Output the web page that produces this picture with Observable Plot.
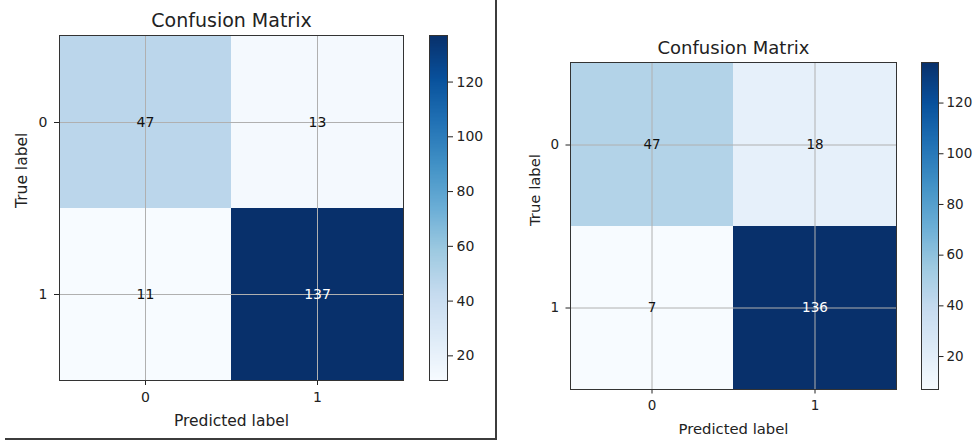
<!DOCTYPE html>
<html><head><meta charset="utf-8">
<script src="https://cdn.jsdelivr.net/npm/d3@7"></script>
<script src="https://cdn.jsdelivr.net/npm/@observablehq/plot@0.6"></script>
<style>
body{margin:0;background:#fff;}
#root{position:relative;width:976px;height:441px;overflow:hidden;background:#fff;}
#root svg{position:absolute;top:0;overflow:visible;}
#border{position:absolute;left:5px;top:0;width:490px;height:438px;border-right:2px solid #3c3c3c;border-bottom:2px solid #3c3c3c;}
</style></head><body><div id="root"><div id="border"></div></div>
<script>
// ---- data ----
const classLabels = ["0", "1"];
const titleText = "Confusion Matrix";
const xLabel = "Predicted label";
const yLabel = "True label";
const matrixLeft = [[47, 13], [11, 137]];
const matrixRight = [[47, 18], [7, 136]];
const colorbarTicks = [20, 40, 60, 80, 100, 120];
const bluesStops = ["#f7fbff","#deebf7","#c6dbef","#9ecae1","#6baed6","#4292c6","#2171b5","#08519c","#08306b"];
const blues = d3.piecewise(d3.interpolateRgb, bluesStops);

function cells(matrix) {
  return matrix.flatMap((row, i) => row.map((v, j) => ({actual: classLabels[i], predicted: classLabels[j], value: v})));
}

function drawMatrix(root, matrix, L) {
  const data = cells(matrix);
  const values = data.map(d => d.value);
  const vmin = d3.min(values), vmax = d3.max(values);
  const color = {type: "linear", domain: [vmin, vmax], interpolate: blues};
  const style = {fontFamily: "DejaVu Sans", background: "transparent", color: "#222", overflow: "visible"};
  const heat = Plot.plot({
    width: L.width, height: L.height,
    marginLeft: L.fx0, marginRight: L.width - L.fx1, marginTop: L.fy0, marginBottom: L.height - L.fy1,
    style,
    x: {domain: classLabels, padding: 0, axis: null},
    y: {domain: classLabels, padding: 0, axis: null},
    color,
    marks: [
      Plot.cell(data, {x: "predicted", y: "actual", fill: "value", inset: 0}),
      Plot.ruleX(classLabels, {x: d => d, stroke: "#b0b0b0", strokeWidth: 1}),
      Plot.ruleY(classLabels, {y: d => d, stroke: "#b0b0b0", strokeWidth: 1}),
      Plot.text(data, {filter: d => d.value <= vmax / 2, x: "predicted", y: "actual", text: d => String(d.value), fill: "#111", fontSize: L.cell}),
      Plot.text(data, {filter: d => d.value > vmax / 2, x: "predicted", y: "actual", text: d => String(d.value), fill: "#fff", fontSize: L.cell}),
      Plot.axisX({anchor: "bottom", tickSize: L.tickSize, tickPadding: L.xPad, fontSize: L.tick, label: null, color: "#222"}),
      Plot.axisY({anchor: "left", tickSize: L.tickSize, tickPadding: L.yPad, fontSize: L.tick, label: null, color: "#222"}),
      Plot.text([titleText], {frameAnchor: "top", dy: L.titleDy, lineAnchor: "bottom", fontSize: L.title, fill: "#222"}),
      Plot.text([xLabel], {frameAnchor: "bottom", dy: L.xlabDy, lineAnchor: "bottom", fontSize: L.label, fill: "#222"}),
      Plot.text([yLabel], {frameAnchor: "left", dx: L.ylabDx, rotate: -90, lineAnchor: "bottom", fontSize: L.label, fill: "#222"}),
      Plot.frame({stroke: "#333"})
    ]
  });
  heat.style.left = L.left + "px";
  root.appendChild(heat);

  const bar = Plot.plot({
    width: L.cbW, height: L.height,
    marginLeft: 0, marginRight: L.cbW - (L.cb1 - L.cb0), marginTop: L.fy0, marginBottom: L.height - L.fy1,
    style,
    x: {domain: [0, 1], axis: null},
    y: {domain: [vmin, vmax], axis: null},
    color,
    marks: [
      Plot.raster({x1: 0, x2: 1, y1: vmin, y2: vmax, width: 1, height: 256, fill: (x, y) => y}),
      Plot.axisY(colorbarTicks, {anchor: "right", tickSize: L.tickSize, tickPadding: L.cbPad, fontSize: L.tick, label: null, color: "#222"}),
      Plot.frame({stroke: "#333"})
    ]
  });
  bar.style.left = L.cb0 + "px";
  root.appendChild(bar);
}

const root = document.getElementById("root");
drawMatrix(root, matrixLeft, {
  left: 0, width: 500, height: 441, fx0: 59, fx1: 403, fy0: 35, fy1: 380,
  cb0: 429, cb1: 447, cbW: 70,
  tickSize: 5, xPad: 7, yPad: 7, cbPad: 4,
  tick: 14, cell: 14, title: 19, label: 15.5,
  titleDy: -8.3, xlabDy: 45, ylabDx: -32.5
});
drawMatrix(root, matrixRight, {
  left: 500, width: 476, height: 441, fx0: 70, fx1: 396, fy0: 62, fy1: 389,
  cb0: 921, cb1: 938, cbW: 55,
  tickSize: 4.5, xPad: 6.5, yPad: 7, cbPad: 3.5,
  tick: 13.5, cell: 13.5, title: 18, label: 14.8,
  titleDy: -8.7, xlabDy: 44, ylabDx: -30.7
});
</script></body></html>
